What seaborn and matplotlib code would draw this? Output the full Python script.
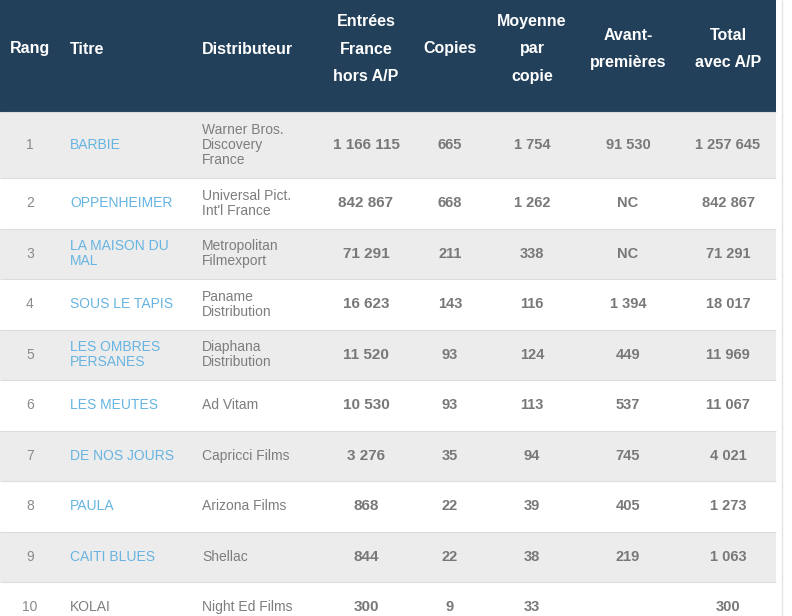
import matplotlib
matplotlib.use("Agg")
import matplotlib.pyplot as plt
import seaborn as sns

# données du box-office
rangs = [1, 2, 3, 4, 5, 6, 7, 8, 9, 10]
titres = ["BARBIE", "OPPENHEIMER", "LA MAISON DU\nMAL", "SOUS LE TAPIS", "LES OMBRES\nPERSANES",
          "LES MEUTES", "DE NOS JOURS", "PAULA", "CAITI BLUES", "KOLAI"]
liens = [True, True, True, True, True, True, True, True, True, False]
distributeurs = ["Warner Bros.\nDiscovery\nFrance", "Universal Pict.\nInt'l France", "Metropolitan\nFilmexport",
                 "Paname\nDistribution", "Diaphana\nDistribution", "Ad Vitam", "Capricci Films",
                 "Arizona Films", "Shellac", "Night Ed Films"]
entrees = [1166115, 842867, 71291, 16623, 11520, 10530, 3276, 868, 844, 300]
copies = [665, 668, 211, 143, 93, 93, 35, 22, 22, 9]
moyenne = [1754, 1262, 338, 116, 124, 113, 94, 39, 38, 33]
avant_premieres = [91530, "NC", "NC", 1394, 449, 537, 745, 405, 219, ""]
total = [1257645, 842867, 71291, 18017, 11969, 11067, 4021, 1273, 1063, 300]

entetes = ["Rang", "Titre", "Distributeur", "Entrées\nFrance\nhors A/P", "Copies",
           "Moyenne\npar\ncopie", "Avant-\npremières", "Total\navec A/P"]


def fmt(v):
    if isinstance(v, str):
        return v
    return f"{v:,}".replace(",", " ")


sns.set_theme(style="white")
plt.rcParams['font.family'] = ['Liberation Sans', 'DejaVu Sans']

fig = plt.figure(figsize=(7.92, 6.16), dpi=100)
ax = fig.add_axes([0, 0, 1, 1])
ax.set_xlim(0, 792)
ax.set_ylim(616, 0)
ax.axis("off")

largeur = 776
haut_entete = 112
# positions des colonnes (px)
x_rang = 30
x_titre = 70
x_dist = 202
x_num = [366, 450, 532, 628, 728]

header_col = "#22405a"
gris = "#ececec"
bleu = "#66b4e1"
txt_gris = "#787878"

# bandeau d'en-tête
ax.barh(haut_entete / 2, largeur, height=haut_entete, left=0, color=header_col, edgecolor="none")
hx = [x_rang, x_titre, x_dist] + x_num
for i, (x, h) in enumerate(zip(hx, entetes)):
    ha = "left" if i in (1, 2) else "center"
    ax.text(x, 49, h, ha=ha, va="center", color="white", fontsize=11.5, fontweight="bold",
            linespacing=2.05, multialignment="center")

# lignes du tableau
y = haut_entete
for i in range(len(rangs)):
    n_lignes = max(titres[i].count("\n"), distributeurs[i].count("\n")) + 1
    h = 66 if n_lignes >= 3 else 50.5
    yc = y + h / 2
    couleur = gris if i % 2 == 0 else "white"
    ax.barh(yc, largeur, height=h, left=0, color=couleur, edgecolor="none")
    ax.hlines(y, 0, largeur, color="#dcdcdc", lw=0.8)

    ax.text(x_rang, yc, str(rangs[i]), ha="center", va="center", color="#8a8a8a", fontsize=10)
    ax.text(x_titre, yc, titres[i], ha="left", va="center", color=bleu if liens[i] else "#7d7d7d",
            fontsize=10, linespacing=1.05)
    ax.text(x_dist, yc, distributeurs[i], ha="left", va="center", color="#7d7d7d",
            fontsize=10, linespacing=1.05)
    vals = [entrees[i], copies[i], moyenne[i], avant_premieres[i], total[i]]
    for j, (x, v) in enumerate(zip(x_num, vals)):
        ax.text(x, yc, fmt(v), ha="center", va="center", color=txt_gris,
                fontsize=11 if j == 0 else 10.5, fontweight="bold")
    y += h

ax.vlines(782, 0, 616, color="#e4e4e4", lw=1)

fig.savefig("out.png", dpi=100)
